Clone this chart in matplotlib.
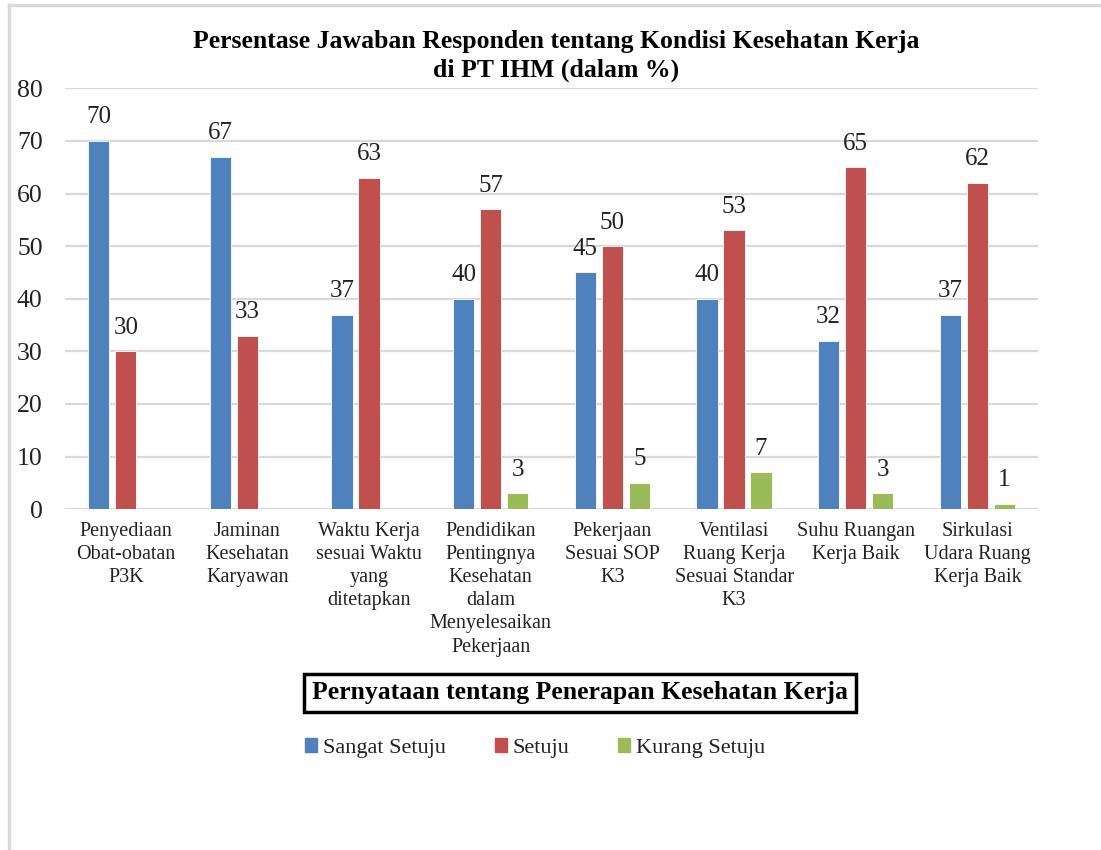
import matplotlib.pyplot as plt
import matplotlib.patches as mpatches
import numpy as np

# ─────────────────────────────────────────────
# Data
# ─────────────────────────────────────────────
categories = [
    "Penyediaan\nObat-obatan\nP3K",
    "Jaminan\nKesehatan\nKaryawan",
    "Waktu Kerja\nsesuai Waktu\nyang\nditetapkan",
    "Pendidikan\nPentingnya\nKesehatan\ndalam\nMenyelesaikan\nPekerjaan",
    "Pekerjaan\nSesuai SOP\nK3",
    "Ventilasi\nRuang Kerja\nSesuai Standar\nK3",
    "Suhu Ruangan\nKerja Baik",
    "Sirkulasi\nUdara Ruang\nKerja Baik",
]
series_names  = ["Sangat Setuju", "Setuju", "Kurang Setuju"]
sangat_setuju = [70, 67, 37, 40, 45, 40, 32, 37]
setuju        = [30, 33, 63, 57, 50, 53, 65, 62]
kurang_setuju = [0, 0, 0, 3, 5, 7, 3, 1]
yticks        = [0, 10, 20, 30, 40, 50, 60, 70, 80]

COLORS = ["#4F81BD", "#C0504D", "#9BBB59"]
TEXT_C = "#222222"
plt.rcParams["font.family"] = "Liberation Serif"

# ─────────────────────────────────────────────
# Figure
# ─────────────────────────────────────────────
fig = plt.figure(figsize=(11.01, 8.5), dpi=100)
ax = fig.add_axes([0.059, 0.401, 0.884, 0.495])

# light frame around chart area (only top + left visible in the crop)
fig.add_artist(plt.Line2D([0.008, 1.0], [0.994, 0.994], color="#D9D9D9", lw=2.5,
                          transform=fig.transFigure))
fig.add_artist(plt.Line2D([0.008, 0.008], [0.0, 0.994], color="#D9D9D9", lw=2.5,
                          transform=fig.transFigure))

x = np.arange(len(categories))
width  = 0.175
offset = 0.222

for i, (vals, name) in enumerate(zip([sangat_setuju, setuju, kurang_setuju], series_names)):
    pos = x + (i - 1) * offset
    bars = ax.bar(pos, vals, width, color=COLORS[i], edgecolor="white", linewidth=0.6,
                  label=name, zorder=3)
    for b, v in zip(bars, vals):
        if v == 0:
            continue  # no label for empty bars
        ax.text(b.get_x() + b.get_width() / 2, v + 2.4, f"{v}", ha="center", va="bottom",
                fontsize=18, color=TEXT_C)

ax.set_xlim(-0.5, len(categories) - 0.5)
ax.set_ylim(0, 80)
ax.set_yticks(yticks)
ax.yaxis.grid(True, color="#D9D9D9", lw=1.6, zorder=0)
ax.set_axisbelow(True)
for s in ["top", "right", "left", "bottom"]:
    ax.spines[s].set_visible(False)
ax.tick_params(axis="both", length=0)
ax.tick_params(axis="y", labelsize=18.5, pad=16, colors=TEXT_C)
ax.set_xticks(x)
ax.set_xticklabels(categories, fontsize=14.5, linespacing=1.3, va="top", color=TEXT_C)
ax.tick_params(axis="x", pad=9)

# title
fig.text(0.505, 1 - 30 / 850,
         "Persentase Jawaban Responden tentang Kondisi Kesehatan Kerja\ndi PT IHM (dalam %)",
         ha="center", va="top", fontsize=18.5, fontweight="bold", linespacing=1.3)

# boxed axis title
fig.text(580 / 1101, 1 - 693 / 850, "Pernyataan tentang Penerapan Kesehatan Kerja",
         ha="center", va="center", fontsize=18.5, fontweight="bold",
         bbox=dict(boxstyle="square,pad=0.3", facecolor="white", edgecolor="black", linewidth=2.5))

# legend
handles = [mpatches.Patch(color=c, label=n) for c, n in zip(COLORS, series_names)]
fig.legend(handles=handles, loc="center", bbox_to_anchor=(535 / 1101, 1 - 748 / 850), ncol=3,
           frameon=False, fontsize=16, handlelength=0.55, handleheight=0.55,
           handletextpad=0.25, columnspacing=2.2, labelcolor=TEXT_C)

plt.savefig("out.png", dpi=100)
